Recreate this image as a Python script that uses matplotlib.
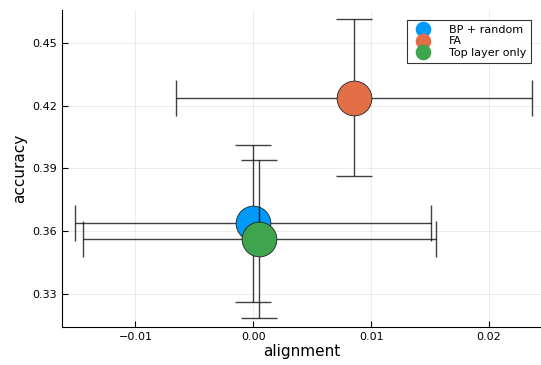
import matplotlib
matplotlib.use("Agg")
import matplotlib.pyplot as plt

labels = ["BP + random", "FA", "Top layer only"]
colors = ["#009AFA", "#E26F46", "#3EA44E"]
align = [0.0000, 0.00857, 0.00051]
align_err = [0.0151, 0.0151, 0.0150]
acc = [0.3637, 0.4238, 0.3562]
acc_err = [0.0375, 0.0375, 0.0377]

xticks = [-0.01, 0.00, 0.01, 0.02]
yticks = [0.33, 0.36, 0.39, 0.42, 0.45]

fig = plt.figure(figsize=(5.41, 3.65), dpi=100)
ax = fig.add_axes([0.1146, 0.105, 0.885, 0.8676])

for i in range(len(labels)):
    z = 3 + i * 2
    ax.errorbar(align[i], acc[i], xerr=align_err[i], yerr=acc_err[i], fmt="none",
                ecolor="black", elinewidth=1.0, capsize=13, capthick=1.0,
                alpha=0.75, zorder=z)
    ax.plot(align[i], acc[i], "o", ms=25, color=colors[i], mec="#222222",
            mew=0.6, zorder=z + 1, label=labels[i])

ax.set_xlim(-0.01623, 0.0244)
ax.set_ylim(0.3142, 0.4657)
ax.set_xticks(xticks)
ax.set_xticklabels(["\u22120.01", "0.00", "0.01", "0.02"])
ax.set_yticks(yticks)
ax.set_yticklabels(["%.2f" % t for t in yticks])
ax.tick_params(direction="in", labelsize=8, length=4, width=0.8)
ax.grid(True, color="black", alpha=0.1, linewidth=0.5)
ax.set_axisbelow(True)
for s in ["top", "right"]:
    ax.spines[s].set_visible(False)
for s in ["left", "bottom"]:
    ax.spines[s].set_linewidth(0.8)
ax.set_xlabel("alignment", fontsize=11, labelpad=2)
ax.set_ylabel("accuracy", fontsize=11, labelpad=4)

leg = ax.legend(loc="upper right", fontsize=8, markerscale=0.45, frameon=True,
                fancybox=False, borderpad=0.45, handletextpad=1.3,
                borderaxespad=0, labelspacing=0.12, bbox_to_anchor=(0.98, 0.968))
leg.get_frame().set_edgecolor("black")
leg.get_frame().set_linewidth(0.8)
for h in leg.legend_handles:
    h.set_markeredgewidth(0)

fig.savefig("out.png", dpi=100)
